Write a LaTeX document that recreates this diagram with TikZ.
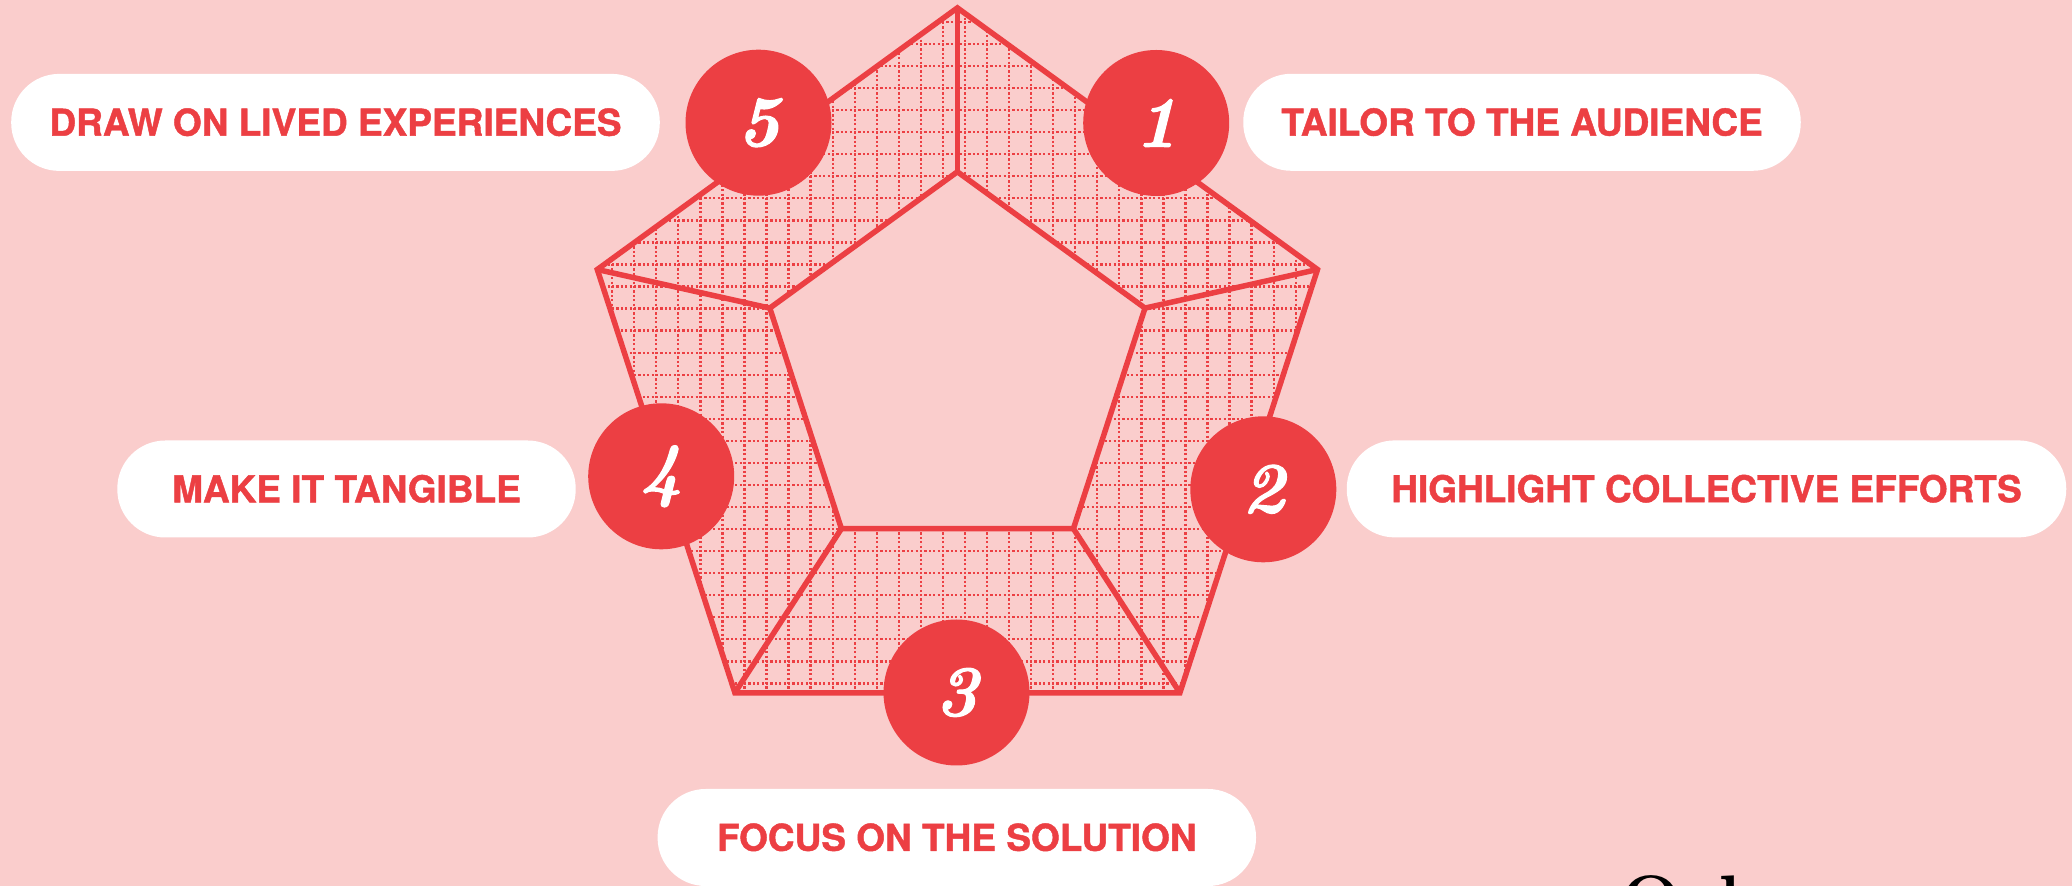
\documentclass[tikz,border=0pt]{standalone}
\usepackage{fontspec}
\newfontfamily\lblfont{TeX Gyre Heros}[BoldFeatures={FakeBold=1.2}]
\newfontfamily\numfont{Latin Modern Roman}[BoldItalicFeatures={FakeBold=1.5}]
\definecolor{bgpink}{RGB}{250,205,204}
\definecolor{mainred}{RGB}{236,63,67}
\begin{document}
\begin{tikzpicture}[x=0.5pt,y=-0.5pt, line join=miter,
  ring/.style={draw=mainred, line width=2.75pt},
  gridline/.style={draw=mainred, line width=1.15pt, dash pattern=on 1.1pt off 1.1pt},
  numcirc/.style={circle, fill=mainred, minimum size=73pt, inner sep=0pt, text=white,
    font=\numfont\fontsize{36}{36}\selectfont\bfseries\itshape},
  pill/.style={rounded corners=24pt, fill=white, minimum height=48.5pt, text=mainred,
    font=\lblfont\bfseries\fontsize{18.5}{20}\selectfont, text height=13.3pt, text depth=0pt, inner sep=0pt},
  logotext/.style={anchor=base west, inner sep=0pt, text=black, font=\fontsize{36.5}{40}\selectfont\bfseries}]
\fill[bgpink] (0,0) rectangle (2072,886);
\useasboundingbox (0,0) rectangle (2072,886);
% outer pentagon
\coordinate (O1) at (957.4,7.9);
\coordinate (O2) at (1317.5,269.5);
\coordinate (O3) at (1179.9,692.8);
\coordinate (O4) at (734.9,692.8);
\coordinate (O5) at (597.3,269.5);
% inner pentagon
\coordinate (I1) at (957.4,171.8);
\coordinate (I2) at (1145.0,308.1);
\coordinate (I3) at (1073.4,528.7);
\coordinate (I4) at (841.4,528.7);
\coordinate (I5) at (769.8,308.1);
% grid in ring
\begin{scope}[even odd rule]
\clip (O1)--(O2)--(O3)--(O4)--(O5)--cycle (I1)--(I2)--(I3)--(I4)--(I5)--cycle;
\foreach \k in {-12,...,21} \draw[gridline] ({854.7+\k*22.05},0) -- ({854.7+\k*22.05},700);
\foreach \k in {-2,...,30} \draw[gridline] (590,{44+\k*22.05}) -- (1330,{44+\k*22.05});
\end{scope}
\draw[ring] (O1)--(O2)--(O3)--(O4)--(O5)--cycle;
\draw[ring] (I1)--(I2)--(I3)--(I4)--(I5)--cycle;
\draw[ring] (I1)--(O1);
\draw[ring] (I2)--(O2);
\draw[ring] (I3)--(O3);
\draw[ring] (I4)--(O4);
\draw[ring] (I5)--(O5);
% numbered circles
\node[numcirc] (c1) at (1156.2,123) {1};
\node[numcirc] (c2) at (1263.3,489.3) {2};
\node[numcirc] (c3) at (956.5,692.5) {3};
\node[numcirc] (c4) at (661.2,476.3) {4};
\node[numcirc] (c5) at (758.5,122.7) {5};
% labels
\node[pill, minimum width=324.3pt] (p5) at (335.5,122.4) {DRAW ON LIVED EXPERIENCES};
\node[pill, minimum width=278.75pt] (p1) at (1522,122.3) {TAILOR TO THE AUDIENCE};
\node[pill, minimum width=359.75pt] (p2) at (1706.5,488.9) {HIGHLIGHT COLLECTIVE EFFORTS};
\node[pill, minimum width=229.2pt] (p4) at (346.5,489) {MAKE IT TANGIBLE};
\node[pill, minimum width=299.2pt] (p3) at (956.8,837.5) {FOCUS ON THE SOLUTION};
% cut-off text at bottom right
\node[logotext] (logo) at (1620,926.7) {Qcl};
\end{tikzpicture}
\end{document}
